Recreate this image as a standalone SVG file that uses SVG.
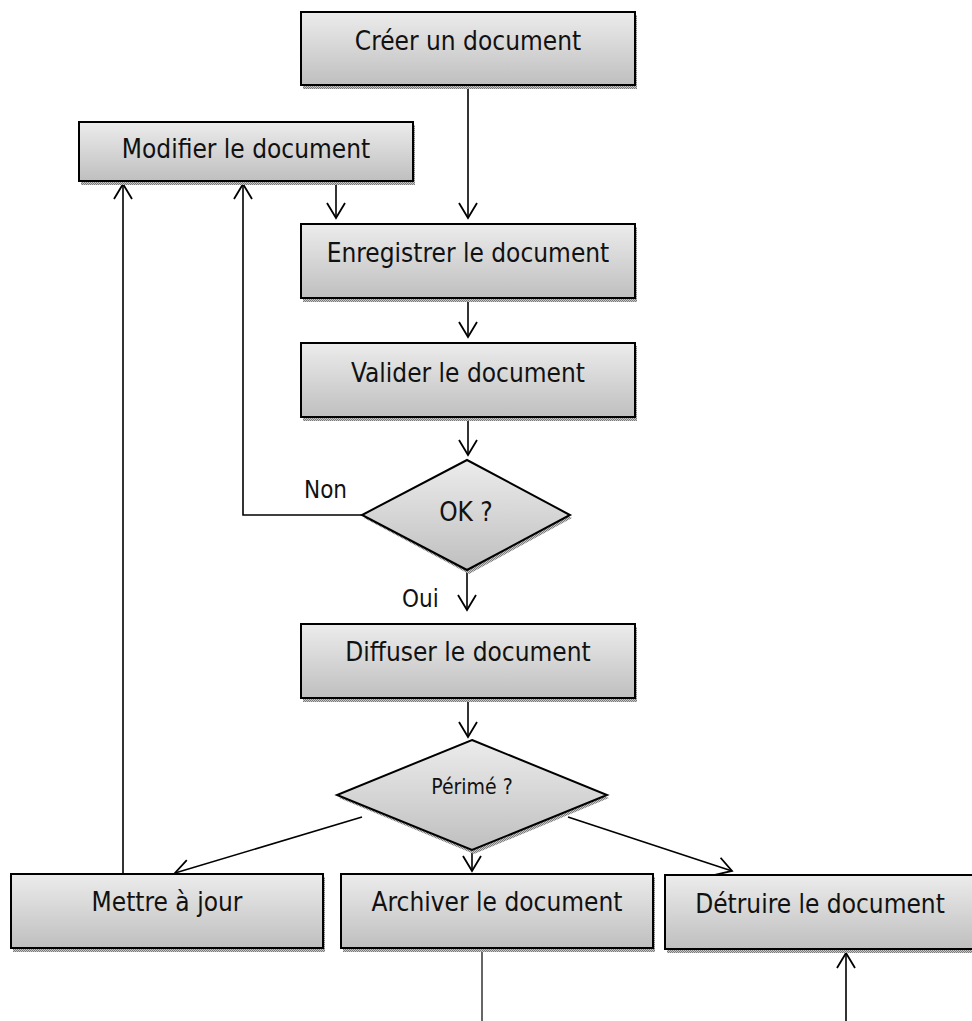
<svg xmlns="http://www.w3.org/2000/svg" width="972" height="1021" viewBox="0 0 972 1021">
  <defs>
    <linearGradient id="fillGrad" x1="0" y1="0" x2="0" y2="1">
      <stop offset="0" stop-color="#ececec"/>
      <stop offset="1" stop-color="#bfbfbf"/>
    </linearGradient>
    <pattern id="stipple" width="2" height="2" patternUnits="userSpaceOnUse">
      <rect width="2" height="2" fill="#c8c8c8"/>
      <rect width="1" height="1" fill="#7a7a7a"/>
      <rect x="1" y="1" width="1" height="1" fill="#7a7a7a"/>
    </pattern>
    <marker id="arrow" markerUnits="userSpaceOnUse" markerWidth="20" markerHeight="22" viewBox="-17 -11 20 22" refX="0" refY="0" orient="auto">
      <path d="M-15,-9 L0,0 L-15,9" fill="none" stroke="#000" stroke-width="1.8"/>
    </marker>
  </defs>
  <style>
    .shadow { fill: url(#stipple); }
    .box { fill: url(#fillGrad); stroke: #000; stroke-width: 2; }
    .label { font-family: 'DejaVu Sans Condensed', 'DejaVu Sans', sans-serif; font-size: 26px; fill: #111; text-anchor: middle; }
    .small { font-size: 21px; }
    .tag { font-family: 'DejaVu Sans Condensed', 'DejaVu Sans', sans-serif; font-size: 24px; fill: #111; }
    .link { fill: none; stroke: #000; stroke-width: 1.6; }
    .thin { stroke-width: 1.2; }
  </style>

  <!-- connectors -->
  <g id="connectors">
    <line class="link" x1="468" y1="85" x2="468" y2="218" marker-end="url(#arrow)"/>
    <line class="link" x1="336" y1="181" x2="336" y2="218" marker-end="url(#arrow)"/>
    <line class="link" x1="468" y1="298" x2="468" y2="337" marker-end="url(#arrow)"/>
    <line class="link" x1="468" y1="417" x2="468" y2="455" marker-end="url(#arrow)"/>
    <polyline class="link" points="362,515 243,515 243,184" marker-end="url(#arrow)"/>
    <line class="link" x1="467" y1="570" x2="467" y2="610" marker-end="url(#arrow)"/>
    <line class="link" x1="468" y1="698" x2="468" y2="737" marker-end="url(#arrow)"/>
    <line class="link" x1="362" y1="817" x2="175" y2="873" marker-end="url(#arrow)"/>
    <line class="link" x1="472" y1="850" x2="472" y2="871" marker-end="url(#arrow)"/>
    <line class="link" x1="568" y1="817" x2="732" y2="871" marker-end="url(#arrow)"/>
    <line class="link" x1="123" y1="874" x2="123" y2="184" marker-end="url(#arrow)"/>
    <line class="link thin" x1="482" y1="949" x2="482" y2="1021"/>
    <line class="link" x1="846" y1="1021" x2="846" y2="953" marker-end="url(#arrow)"/>
    <text class="tag" x="304" y="498">Non</text>
    <text class="tag" x="402" y="607">Oui</text>
  </g>

  <g id="creer">
    <rect class="shadow" x="303" y="15" width="334" height="74"/>
    <rect class="box" x="301" y="12" width="334" height="73"/>
    <text class="label" x="468" y="50">Créer un document</text>
  </g>

  <g id="modifier">
    <rect class="shadow" x="81" y="125" width="334" height="60"/>
    <rect class="box" x="79" y="122" width="334" height="59"/>
    <text class="label" x="246" y="158">Modifier le document</text>
  </g>

  <g id="enregistrer">
    <rect class="shadow" x="303" y="227" width="334" height="75"/>
    <rect class="box" x="301" y="224" width="334" height="74"/>
    <text class="label" x="468" y="262">Enregistrer le document</text>
  </g>

  <g id="valider">
    <rect class="shadow" x="303" y="346" width="334" height="75"/>
    <rect class="box" x="301" y="343" width="334" height="74"/>
    <text class="label" x="468" y="382">Valider le document</text>
  </g>

  <g id="ok">
    <polygon class="shadow" points="469,463 572,518 469,574 364,518"/>
    <polygon class="box" points="467,460 570,515 467,570 362,515"/>
    <text class="label" x="466" y="521">OK ?</text>
  </g>

  <g id="diffuser">
    <rect class="shadow" x="303" y="627" width="334" height="75"/>
    <rect class="box" x="301" y="624" width="334" height="74"/>
    <text class="label" x="468" y="661">Diffuser le document</text>
  </g>

  <g id="perime">
    <polygon class="shadow" points="474,743 609,798 474,854 339,798"/>
    <polygon class="box" points="472,740 607,795 472,850 337,795"/>
    <text class="label small" x="472" y="794">Périmé ?</text>
  </g>

  <g id="mettre">
    <rect class="shadow" x="13" y="877" width="312" height="75"/>
    <rect class="box" x="11" y="874" width="312" height="74"/>
    <text class="label" x="167" y="911">Mettre à jour</text>
  </g>

  <g id="archiver">
    <rect class="shadow" x="343" y="877" width="312" height="75"/>
    <rect class="box" x="341" y="874" width="312" height="74"/>
    <text class="label" x="497" y="911">Archiver le document</text>
  </g>

  <g id="detruire">
    <rect class="shadow" x="667" y="878" width="310" height="75"/>
    <rect class="box" x="665" y="875" width="310" height="74"/>
    <text class="label" x="820" y="913">Détruire le document</text>
  </g>
</svg>
